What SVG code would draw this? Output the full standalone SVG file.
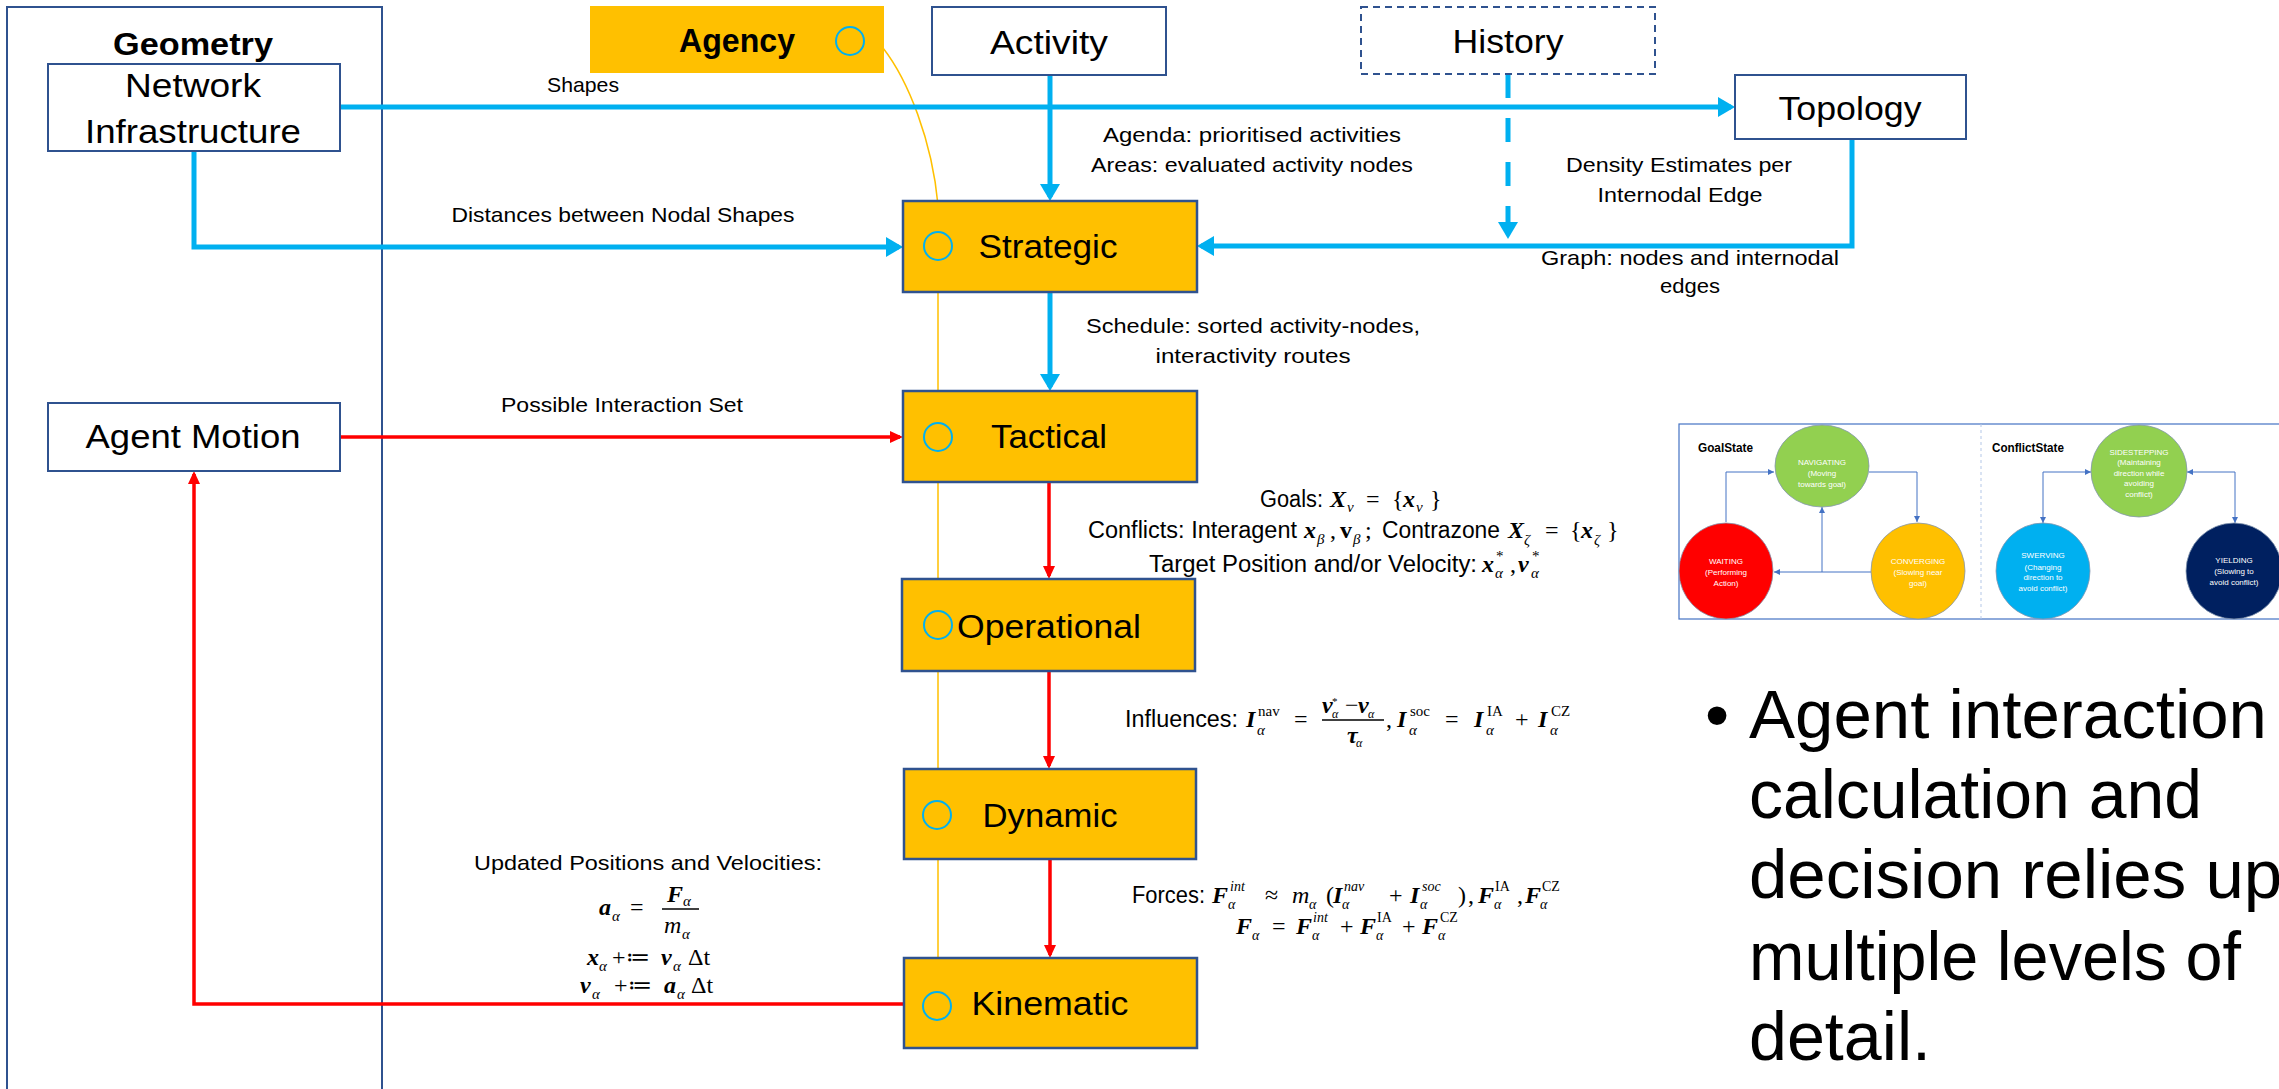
<svg xmlns="http://www.w3.org/2000/svg" width="2279" height="1089" viewBox="0 0 2279 1089">
<style>
.bw{fill:#fff;stroke:#2F528F;stroke-width:2}
.by{fill:#FFC000;stroke:#2F528F;stroke-width:2.5}
.ci{fill:none;stroke:#00B0F0;stroke-width:2}
.sans{font-family:"Liberation Sans",Arial,sans-serif;fill:#000}
.nl{font-size:33px;text-anchor:middle}
.el{font-size:21px;text-anchor:middle}
.ml{font-size:23px}
.m{font-family:"Liberation Serif","DejaVu Serif",serif;font-size:24px;fill:#000}
.bi{font-weight:bold;font-style:italic}
.b{font-weight:bold}
.it{font-style:italic}
.s{font-size:15px}
.cb{fill:none;stroke:#00B0F0;stroke-width:5}
.cr{fill:none;stroke:#FF0000;stroke-width:3.5}
.ins{fill:none;stroke:#4472C4;stroke-width:1}
.st{font-family:"Liberation Sans",Arial,sans-serif;font-size:8px;fill:#fff;text-anchor:middle}
.bul{font-family:"Liberation Sans",Arial,sans-serif;font-size:69px;fill:#000}
</style>
<defs>
<marker id="ab" markerUnits="userSpaceOnUse" viewBox="0 0 18 20" markerWidth="18" markerHeight="20" refX="13" refY="10" orient="auto"><path d="M0,0 L17,10 L0,20 z" fill="#00B0F0"/></marker>
<marker id="ar" markerUnits="userSpaceOnUse" viewBox="0 0 13 12" markerWidth="13" markerHeight="12" refX="10" refY="6" orient="auto"><path d="M0,0 L13,6 L0,12 z" fill="#FF0000"/></marker>
<marker id="as" markerUnits="userSpaceOnUse" viewBox="0 0 6 6" markerWidth="6" markerHeight="6" refX="6" refY="3" orient="auto-start-reverse"><path d="M0,0 L6,3 L0,6 z" fill="#4472C4"/></marker>
</defs>

<g id="geometry">
<rect x="7" y="7" width="375" height="1100" fill="none" stroke="#2F528F" stroke-width="2"/>
<text class="sans b" x="193" y="55" font-size="31" text-anchor="middle" textLength="160" lengthAdjust="spacingAndGlyphs">Geometry</text>
</g>

<g id="agency-lifeline">
<path d="M883,48 C908,80 932,140 938,205 L938,958" fill="none" stroke="#FFC000" stroke-width="1.5"/>
</g>

<g id="connectors">
<path class="cb" d="M340,107 H1731" marker-end="url(#ab)"/>
<path class="cb" d="M194,151 V247 H899" marker-end="url(#ab)"/>
<path class="cb" d="M1050,75 V197" marker-end="url(#ab)"/>
<path class="cb" d="M1508,74 V235" stroke-dasharray="24 20" marker-end="url(#ab)"/>
<path class="cb" d="M1852,139 V246 H1201" marker-end="url(#ab)"/>
<path class="cb" d="M1050,292 V387" marker-end="url(#ab)"/>
<path class="cr" d="M340,437 H900" marker-end="url(#ar)"/>
<path class="cr" d="M1049,482 V576" marker-end="url(#ar)"/>
<path class="cr" d="M1049,671 V766" marker-end="url(#ar)"/>
<path class="cr" d="M1050,859 V955" marker-end="url(#ar)"/>
<path class="cr" d="M904,1004 H194 V474" marker-end="url(#ar)"/>
</g>

<g id="network-infrastructure">
<rect class="bw" x="48" y="64" width="292" height="87"/>
<text class="sans nl" x="193" y="97" textLength="136" lengthAdjust="spacingAndGlyphs">Network</text>
<text class="sans nl" x="193" y="143" textLength="216" lengthAdjust="spacingAndGlyphs">Infrastructure</text>
</g>
<g id="agent-motion">
<rect class="bw" x="48" y="403" width="292" height="68"/>
<text class="sans nl" x="193" y="448" textLength="215" lengthAdjust="spacingAndGlyphs">Agent Motion</text>
</g>
<g id="agency">
<rect x="590" y="6" width="294" height="67" fill="#FFC000"/>
<text class="sans b" x="737" y="52" font-size="33" text-anchor="middle" textLength="116" lengthAdjust="spacingAndGlyphs">Agency</text>
<circle class="ci" cx="850" cy="41" r="14"/>
</g>
<g id="activity">
<rect class="bw" x="932" y="7" width="234" height="68"/>
<text class="sans nl" x="1049" y="54" textLength="118" lengthAdjust="spacingAndGlyphs">Activity</text>
</g>
<g id="history">
<rect class="bw" x="1361" y="7" width="294" height="67" stroke-dasharray="7 5"/>
<text class="sans nl" x="1508" y="53" textLength="111" lengthAdjust="spacingAndGlyphs">History</text>
</g>
<g id="topology">
<rect class="bw" x="1735" y="75" width="231" height="64"/>
<text class="sans nl" x="1850" y="120" textLength="143" lengthAdjust="spacingAndGlyphs">Topology</text>
</g>
<g id="strategic">
<rect class="by" x="903" y="201" width="294" height="91"/>
<circle class="ci" cx="938" cy="246" r="14"/>
<text class="sans nl" x="1048" y="258" textLength="139" lengthAdjust="spacingAndGlyphs">Strategic</text>
</g>
<g id="tactical">
<rect class="by" x="903" y="391" width="294" height="91"/>
<circle class="ci" cx="938" cy="437" r="14"/>
<text class="sans nl" x="1049" y="448" textLength="116" lengthAdjust="spacingAndGlyphs">Tactical</text>
</g>
<g id="operational">
<rect class="by" x="902" y="579" width="293" height="92"/>
<circle class="ci" cx="938" cy="625" r="14"/>
<text class="sans nl" x="1049" y="638" textLength="184" lengthAdjust="spacingAndGlyphs">Operational</text>
</g>
<g id="dynamic">
<rect class="by" x="904" y="769" width="292" height="90"/>
<circle class="ci" cx="937" cy="815" r="14"/>
<text class="sans nl" x="1050" y="827" textLength="135" lengthAdjust="spacingAndGlyphs">Dynamic</text>
</g>
<g id="kinematic">
<rect class="by" x="904" y="958" width="293" height="90"/>
<circle class="ci" cx="937" cy="1006" r="14"/>
<text class="sans nl" x="1050" y="1015" textLength="157" lengthAdjust="spacingAndGlyphs">Kinematic</text>
</g>

<g id="edge-labels">
<text class="sans el" x="583" y="92" textLength="72" lengthAdjust="spacingAndGlyphs">Shapes</text>
<text class="sans el" x="623" y="222" textLength="343" lengthAdjust="spacingAndGlyphs">Distances between Nodal Shapes</text>
<text class="sans el" x="1252" y="142" textLength="298" lengthAdjust="spacingAndGlyphs">Agenda: prioritised activities</text>
<text class="sans el" x="1252" y="172" textLength="322" lengthAdjust="spacingAndGlyphs">Areas: evaluated activity nodes</text>
<text class="sans el" x="1679" y="172" textLength="226" lengthAdjust="spacingAndGlyphs">Density Estimates per</text>
<text class="sans el" x="1680" y="202" textLength="165" lengthAdjust="spacingAndGlyphs">Internodal Edge</text>
<text class="sans el" x="1690" y="265" textLength="298" lengthAdjust="spacingAndGlyphs">Graph: nodes and internodal</text>
<text class="sans el" x="1690" y="293" textLength="60" lengthAdjust="spacingAndGlyphs">edges</text>
<text class="sans el" x="1253" y="333" textLength="334" lengthAdjust="spacingAndGlyphs">Schedule: sorted activity-nodes,</text>
<text class="sans el" x="1253" y="363" textLength="195" lengthAdjust="spacingAndGlyphs">interactivity routes</text>
<text class="sans el" x="622" y="412" textLength="242" lengthAdjust="spacingAndGlyphs">Possible Interaction Set</text>
<text class="sans el" x="648" y="870" textLength="348" lengthAdjust="spacingAndGlyphs">Updated Positions and Velocities:</text>

<text class="sans ml" x="1260" y="507" textLength="63" lengthAdjust="spacingAndGlyphs">Goals:</text>
<text class="m" y="507"><tspan x="1330" class="bi">X</tspan><tspan x="1347" y="512" class="it s">ν</tspan><tspan x="1366" y="507">=</tspan><tspan x="1392">{</tspan><tspan x="1403" class="bi">x</tspan><tspan x="1416" y="512" class="it s">ν</tspan><tspan x="1430" y="507">}</tspan></text>

<text class="sans ml" x="1088" y="538" textLength="209" lengthAdjust="spacingAndGlyphs">Conflicts: Interagent</text>
<text class="m" y="538"><tspan x="1304" class="bi">x</tspan><tspan x="1317" y="544" class="it s">β</tspan><tspan x="1330" y="538">,</tspan><tspan x="1340" class="b">v</tspan><tspan x="1353" y="544" class="it s">β</tspan><tspan x="1365" y="538">;</tspan></text>
<text class="sans ml" x="1382" y="538" textLength="118" lengthAdjust="spacingAndGlyphs">Contrazone</text>
<text class="m" y="538"><tspan x="1508" class="bi">X</tspan><tspan x="1524" y="545" class="it s">ζ</tspan><tspan x="1545" y="538">=</tspan><tspan x="1570">{</tspan><tspan x="1581" class="bi">x</tspan><tspan x="1594" y="545" class="it s">ζ</tspan><tspan x="1607" y="538">}</tspan></text>

<text class="sans ml" x="1149" y="572" textLength="328" lengthAdjust="spacingAndGlyphs">Target Position and/or Velocity:</text>
<text class="m" y="572"><tspan x="1482" class="bi">x</tspan><tspan x="1496" y="561" class="s">*</tspan><tspan x="1495" y="578" class="it s">α</tspan><tspan x="1510" y="572">,</tspan><tspan x="1518" class="bi">v</tspan><tspan x="1532" y="561" class="s">*</tspan><tspan x="1531" y="578" class="it s">α</tspan></text>

<text class="sans ml" x="1125" y="727" textLength="113" lengthAdjust="spacingAndGlyphs">Influences:</text>
<text class="m" y="727"><tspan x="1246" class="bi">I</tspan><tspan x="1258" y="716" class="s">nav</tspan><tspan x="1257" y="735" class="it s">α</tspan><tspan x="1294" y="727">=</tspan><tspan x="1386">,</tspan><tspan x="1397" class="bi">I</tspan><tspan x="1410" y="716" class="s">soc</tspan><tspan x="1409" y="735" class="it s">α</tspan><tspan x="1445" y="727">=</tspan><tspan x="1474" class="bi">I</tspan><tspan x="1487" y="716" class="s">IA</tspan><tspan x="1486" y="735" class="it s">α</tspan><tspan x="1515" y="727">+</tspan><tspan x="1538" class="bi">I</tspan><tspan x="1551" y="716" class="s">CZ</tspan><tspan x="1550" y="735" class="it s">α</tspan></text>
<text class="m" y="713" font-size="19"><tspan x="1322" class="bi">v</tspan><tspan x="1332" y="705" font-size="11">*</tspan><tspan x="1332" y="718" class="it" font-size="12">α</tspan><tspan x="1345" y="713">−</tspan><tspan x="1358" class="bi">v</tspan><tspan x="1368" y="718" class="it" font-size="12">α</tspan></text>
<line x1="1322" y1="720" x2="1384" y2="720" stroke="#000" stroke-width="1.3"/>
<text class="m" y="743" font-size="19"><tspan x="1347" class="bi">τ</tspan><tspan x="1356" y="747" class="it" font-size="12">α</tspan></text>

<text class="sans ml" x="1132" y="903" textLength="73" lengthAdjust="spacingAndGlyphs">Forces:</text>
<text class="m" y="903" font-size="22"><tspan x="1212" class="bi">F</tspan><tspan x="1230" y="891" class="it" font-size="14">int</tspan><tspan x="1228" y="909" class="it" font-size="14">α</tspan><tspan x="1265" y="903">≈</tspan><tspan x="1292" class="it">m</tspan><tspan x="1309" y="909" class="it" font-size="14">α</tspan><tspan x="1326" y="903">(</tspan><tspan x="1333" class="bi">I</tspan><tspan x="1344" y="891" class="it" font-size="14">nav</tspan><tspan x="1342" y="909" class="it" font-size="14">α</tspan><tspan x="1389" y="903">+</tspan><tspan x="1410" class="bi">I</tspan><tspan x="1422" y="891" class="it" font-size="14">soc</tspan><tspan x="1420" y="909" class="it" font-size="14">α</tspan><tspan x="1458" y="903">)</tspan><tspan x="1468">,</tspan><tspan x="1478" class="bi">F</tspan><tspan x="1495" y="891" font-size="14">IA</tspan><tspan x="1494" y="909" class="it" font-size="14">α</tspan><tspan x="1517" y="903">,</tspan><tspan x="1525" class="bi">F</tspan><tspan x="1542" y="891" font-size="14">CZ</tspan><tspan x="1540" y="909" class="it" font-size="14">α</tspan></text>
<text class="m" y="934" font-size="22"><tspan x="1236" class="bi">F</tspan><tspan x="1252" y="940" class="it" font-size="14">α</tspan><tspan x="1272" y="934">=</tspan><tspan x="1296" class="bi">F</tspan><tspan x="1313" y="922" class="it" font-size="14">int</tspan><tspan x="1312" y="940" class="it" font-size="14">α</tspan><tspan x="1340" y="934">+</tspan><tspan x="1360" class="bi">F</tspan><tspan x="1377" y="922" font-size="14">IA</tspan><tspan x="1376" y="940" class="it" font-size="14">α</tspan><tspan x="1402" y="934">+</tspan><tspan x="1422" class="bi">F</tspan><tspan x="1440" y="922" font-size="14">CZ</tspan><tspan x="1438" y="940" class="it" font-size="14">α</tspan></text>

<text class="m" y="915"><tspan x="599" class="bi">a</tspan><tspan x="612" y="921" class="it s">α</tspan><tspan x="630" y="915">=</tspan></text>
<text class="m" y="902"><tspan x="667" class="bi">F</tspan><tspan x="683" y="906" class="it s">α</tspan></text>
<line x1="662" y1="909" x2="699" y2="909" stroke="#000" stroke-width="1.5"/>
<text class="m" y="933"><tspan x="664" class="it">m</tspan><tspan x="682" y="939" class="it s">α</tspan></text>
<text class="m" y="965"><tspan x="587" class="bi">x</tspan><tspan x="599" y="971" class="it s">α</tspan><tspan x="612" y="965">+≔</tspan><tspan x="661" class="bi">v</tspan><tspan x="673" y="971" class="it s">α</tspan><tspan x="688" y="965">Δt</tspan></text>
<text class="m" y="993"><tspan x="580" class="bi">v</tspan><tspan x="592" y="999" class="it s">α</tspan><tspan x="614" y="993">+≔</tspan><tspan x="664" class="bi">a</tspan><tspan x="677" y="999" class="it s">α</tspan><tspan x="691" y="993">Δt</tspan></text>
</g>

<g id="state-inset">
<rect x="1679" y="424" width="640" height="195" fill="#fff" stroke="#4472C4" stroke-width="1.2"/>
<line x1="1981" y1="424" x2="1981" y2="619" stroke="#B4C7E7" stroke-width="1" stroke-dasharray="3 3"/>
<text class="sans b" x="1698" y="452" font-size="12" textLength="55" lengthAdjust="spacingAndGlyphs">GoalState</text>
<text class="sans b" x="1992" y="452" font-size="12" textLength="72" lengthAdjust="spacingAndGlyphs">ConflictState</text>
<path class="ins" d="M1726,522 V472 H1774" marker-end="url(#as)"/>
<path class="ins" d="M1869,472 H1917 V522" marker-end="url(#as)"/>
<path class="ins" d="M1871,572 H1774" marker-end="url(#as)"/>
<path class="ins" d="M1822,572 V507" marker-end="url(#as)"/>
<path class="ins" d="M2043,523 V472 H2091" marker-start="url(#as)" marker-end="url(#as)"/>
<path class="ins" d="M2187,472 H2235 V523" marker-start="url(#as)" marker-end="url(#as)"/>
<g id="navigating"><ellipse cx="1822" cy="466" rx="47" ry="41" fill="#92D050" stroke="#8497B0" stroke-width="0.8"/>
<text class="st" x="1822" y="465">NAVIGATING</text><text class="st" x="1822" y="476">(Moving</text><text class="st" x="1822" y="487">towards goal)</text></g>
<g id="waiting"><ellipse cx="1726" cy="571" rx="47" ry="48" fill="#FF0000" stroke="#8497B0" stroke-width="0.8"/>
<text class="st" x="1726" y="564">WAITING</text><text class="st" x="1726" y="575">(Performing</text><text class="st" x="1726" y="586">Action)</text></g>
<g id="converging"><ellipse cx="1918" cy="571" rx="47" ry="48" fill="#FFC000" stroke="#8497B0" stroke-width="0.8"/>
<text class="st" x="1918" y="564">CONVERGING</text><text class="st" x="1918" y="575">(Slowing near</text><text class="st" x="1918" y="586">goal)</text></g>
<g id="sidestepping"><ellipse cx="2139" cy="471" rx="48" ry="46" fill="#92D050" stroke="#8497B0" stroke-width="0.8"/>
<text class="st" x="2139" y="455">SIDESTEPPING</text><text class="st" x="2139" y="465">(Maintaining</text><text class="st" x="2139" y="476">direction while</text><text class="st" x="2139" y="486">avoiding</text><text class="st" x="2139" y="497">conflict)</text></g>
<g id="swerving"><ellipse cx="2043" cy="571" rx="47" ry="48" fill="#00B0F0" stroke="#8497B0" stroke-width="0.8"/>
<text class="st" x="2043" y="558">SWERVING</text><text class="st" x="2043" y="570">(Changing</text><text class="st" x="2043" y="580">direction to</text><text class="st" x="2043" y="591">avoid conflict)</text></g>
<g id="yielding"><ellipse cx="2234" cy="571" rx="48" ry="48" fill="#002060" stroke="#8497B0" stroke-width="0.8"/>
<text class="st" x="2234" y="563">YIELDING</text><text class="st" x="2234" y="574">(Slowing to</text><text class="st" x="2234" y="585">avoid conflict)</text></g>
</g>

<g id="bullet-text">
<text class="bul" x="1705" y="738">•</text>
<text class="bul" x="1749" y="738" textLength="518" lengthAdjust="spacingAndGlyphs">Agent interaction</text>
<text class="bul" x="1749" y="818" textLength="453" lengthAdjust="spacingAndGlyphs">calculation and</text>
<text class="bul" x="1749" y="898">decision relies upon</text>
<text class="bul" x="1749" y="980" textLength="492" lengthAdjust="spacingAndGlyphs">multiple levels of</text>
<text class="bul" x="1749" y="1060" textLength="182" lengthAdjust="spacingAndGlyphs">detail.</text>
</g>
</svg>
